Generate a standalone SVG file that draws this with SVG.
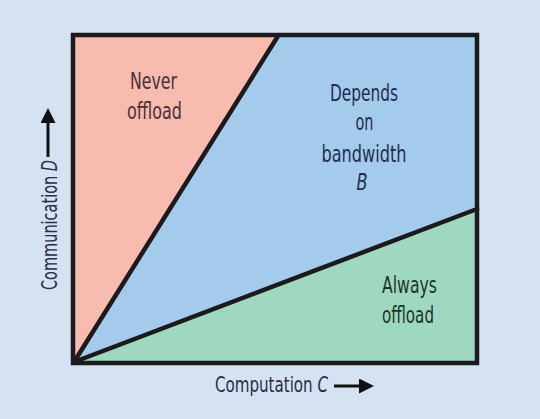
<svg xmlns="http://www.w3.org/2000/svg" width="540" height="419" viewBox="0 0 540 419">
  <style>
    .lbl { font-family: "DejaVu Sans Condensed", "DejaVu Sans", "Liberation Sans", sans-serif; font-stretch: condensed; font-size: 23px; text-anchor: middle; }
    .axis { font-family: "DejaVu Sans Condensed", "DejaVu Sans", "Liberation Sans", sans-serif; font-stretch: condensed; font-size: 22px; fill: #2a2d4a; }
    .bound { stroke: #1c1a1c; stroke-width: 4.5; stroke-linecap: round; fill: none; }
    .arrow { stroke: #111; stroke-width: 3; fill: none; }
    .it { font-style: italic; }
  </style>
  <defs>
    <marker id="head" viewBox="0 0 10 10" refX="0" refY="5" markerUnits="userSpaceOnUse" markerWidth="15" markerHeight="15" orient="auto">
      <path d="M0,0 L10,5 L0,10 z" fill="#111"/>
    </marker>
  </defs>
  <rect x="0" y="0" width="540" height="419" fill="#d5e2f2"/>

  <g id="region-never">
    <polygon points="73,35 278,35 74,363 73,363" fill="#f7bbaf"/>
    <text class="lbl" fill="#4a3038"><tspan x="153.5" y="89" textLength="47" lengthAdjust="spacingAndGlyphs">Never</tspan><tspan x="154.5" y="119" textLength="55" lengthAdjust="spacingAndGlyphs">offload</tspan></text>
  </g>
  <g id="region-depends">
    <polygon points="278,35 477,35 477,209 74,363" fill="#a4cbeb"/>
    <text class="lbl" fill="#1f2d52"><tspan x="364" y="101" textLength="68" lengthAdjust="spacingAndGlyphs">Depends</tspan><tspan x="364.5" y="130" textLength="18" lengthAdjust="spacingAndGlyphs">on</tspan><tspan x="364" y="162" textLength="85" lengthAdjust="spacingAndGlyphs">bandwidth</tspan><tspan x="362" y="190" class="it" textLength="11" lengthAdjust="spacingAndGlyphs">B</tspan></text>
  </g>
  <g id="region-always">
    <polygon points="74,363 477,209 477,363" fill="#9ed8c0"/>
    <text class="lbl" fill="#1f3328"><tspan x="409.5" y="293" textLength="55" lengthAdjust="spacingAndGlyphs">Always</tspan><tspan x="408" y="323" textLength="52" lengthAdjust="spacingAndGlyphs">offload</tspan></text>
  </g>

  <g id="connectors">
    <line class="bound" x1="74" y1="362" x2="278" y2="36"/>
    <line class="bound" x1="74" y1="362" x2="477" y2="209"/>
    <rect class="bound" x="73" y="35" width="404" height="328" stroke-linecap="butt"/>
    <line class="arrow" x1="334" y1="386" x2="359" y2="386" marker-end="url(#head)"/>
    <line class="arrow" x1="48" y1="157" x2="48" y2="123" marker-end="url(#head)"/>
  </g>

  <g id="axis-x">
    <text class="axis" x="215" y="392" textLength="113" lengthAdjust="spacingAndGlyphs">Computation <tspan class="it">C</tspan></text>
  </g>
  <g id="axis-y">
    <text class="axis" transform="translate(57,290) rotate(-90)" x="0" y="0" textLength="130" lengthAdjust="spacingAndGlyphs">Communication <tspan class="it">D</tspan></text>
  </g>
</svg>
